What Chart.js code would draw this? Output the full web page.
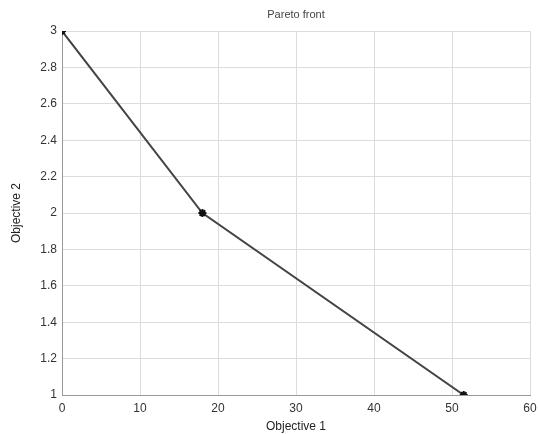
<!DOCTYPE html>
<html>
<head>
<meta charset="utf-8">
<script src="https://cdn.jsdelivr.net/npm/chart.js@4/dist/chart.umd.min.js"></script>
<style>
  html, body { margin: 0; padding: 0; background: #fff; }
  #wrap { width: 539px; height: 434px; }
</style>
</head>
<body>
<div id="wrap"><canvas id="chart" width="539" height="434"></canvas></div>
<script>
// ── Data ──────────────────────────────────────────────────────────────────────
const objective1 = [0, 18, 51.5];
const objective2 = [3, 2, 1];
const xTicks = [0, 10, 20, 30, 40, 50, 60];
const yTicks = [1, 1.2, 1.4, 1.6, 1.8, 2, 2.2, 2.4, 2.6, 2.8, 3];
const TITLE = 'Pareto front';

Chart.defaults.font.family = "'Liberation Sans', Arial, sans-serif";
Chart.defaults.font.size = 12;
Chart.defaults.color = '#333';

const points = objective1.map((x, i) => ({ x, y: objective2[i] }));

// title centred over the plot area, like the original figure
const plotTitle = {
  id: 'plotTitle',
  afterDraw(chart) {
    const { ctx, chartArea } = chart;
    ctx.save();
    ctx.font = "11px 'Liberation Sans', Arial, sans-serif";
    ctx.fillStyle = '#444';
    ctx.textAlign = 'center';
    ctx.textBaseline = 'middle';
    ctx.fillText(TITLE, (chartArea.left + chartArea.right) / 2, 15);
    ctx.restore();
  }
};

new Chart(document.getElementById('chart'), {
  type: 'scatter',
  data: {
    datasets: [{
      data: points,
      showLine: true,
      borderColor: '#444',
      borderWidth: 2,
      pointStyle: 'star',
      pointRadius: 4,
      pointBorderColor: '#111',
      pointBackgroundColor: '#111',
      pointBorderWidth: 2,
    }]
  },
  plugins: [plotTitle],
  options: {
    responsive: false,
    animation: false,
    layout: { padding: { right: 0, top: 31 } },
    plugins: {
      legend: { display: false },
      tooltip: { enabled: false },
      title: { display: false },
    },
    scales: {
      x: {
        type: 'linear',
        min: 0,
        max: 60,
        afterBuildTicks: axis => { axis.ticks = xTicks.map(v => ({ value: v })); },
        afterFit: axis => {
          axis.height = 39;
          axis.paddingRight = 9;
          axis.paddingLeft = 0;
        },
        grid: { color: '#dcdcdc', drawTicks: false },
        border: { color: '#999' },
        ticks: { padding: 6, color: '#333' },
        title: { display: true, text: 'Objective 1', color: '#222', padding: { top: 2, bottom: 0 } },
      },
      y: {
        type: 'linear',
        min: 1,
        max: 3,
        afterBuildTicks: axis => { axis.ticks = yTicks.map(v => ({ value: v })); },
        afterFit: axis => { axis.width = 62; },
        grid: { color: '#dcdcdc', drawTicks: false },
        border: { color: '#999' },
        ticks: { padding: 5, color: '#333', callback: v => String(Math.round(v * 10) / 10) },
        title: { display: true, text: 'Objective 2', color: '#222', padding: { top: 9, bottom: 0 } },
      },
    },
  },
});
</script>
</body>
</html>
